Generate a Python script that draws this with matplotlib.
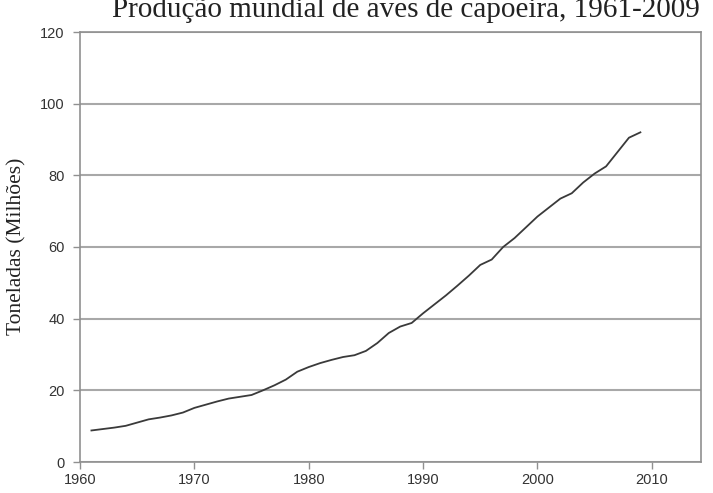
#!/usr/bin/env python3

import matplotlib.pyplot as plt
import numpy as np

# data
years = np.arange(1961, 2010)
production = [
    8.8, 9.2, 9.6, 10.1, 11.0, 11.9, 12.4, 13.0, 13.8, 15.1,
    16.0, 16.9, 17.7, 18.2, 18.7, 20.0, 21.4, 23.0, 25.2, 26.5,
    27.6, 28.5, 29.3, 29.8, 31.0, 33.2, 36.0, 37.8, 38.8, 41.5,
    44.0, 46.5, 49.2, 52.0, 55.0, 56.5, 60.0, 62.5, 65.5, 68.5,
    71.0, 73.5, 75.0, 78.0, 80.5, 82.5, 86.5, 90.5, 92.0,
]
x_ticks = [1960, 1970, 1980, 1990, 2000, 2010]
y_ticks = [0, 20, 40, 60, 80, 100, 120]

title = "Produção mundial de aves de capoeira, 1961-2009"
ylabel = "Toneladas (Milhões)"

W, H = 713, 493
fig = plt.figure(figsize=(W / 100, H / 100), dpi=100)
ax = fig.add_axes([80 / W, 1 - 462 / H, (701 - 80) / W, (462 - 32) / H])

ax.plot(years, production, color="#3a3a3a", lw=1.3)

ax.set_xlim(1960, 2014.3)
ax.set_ylim(0, 120)
ax.set_xticks(x_ticks)
ax.set_yticks(y_ticks)
ax.yaxis.grid(True, color="#a8a8a8", lw=1.5)
ax.set_axisbelow(True)

for s in ax.spines.values():
    s.set_color("#909090")
    s.set_linewidth(1.2)

ax.tick_params(axis="both", direction="out", length=5, width=1, color="#909090",
               labelsize=10.5, labelcolor="#333333")
ax.tick_params(axis="y", pad=6)
ax.tick_params(axis="x", pad=3)
for lab in ax.get_xticklabels() + ax.get_yticklabels():
    lab.set_family("Liberation Sans")

fig.text(17 / W, 1 - 246 / H, ylabel, family="Liberation Serif", fontsize=15.5,
         color="#222222", rotation=90, ha="center", va="center")
fig.text(0.57, 1 - 17 / H, title, family="Liberation Serif", fontsize=21, color="#222222",
         ha="center", va="baseline")

fig.savefig("out.png", dpi=100)
